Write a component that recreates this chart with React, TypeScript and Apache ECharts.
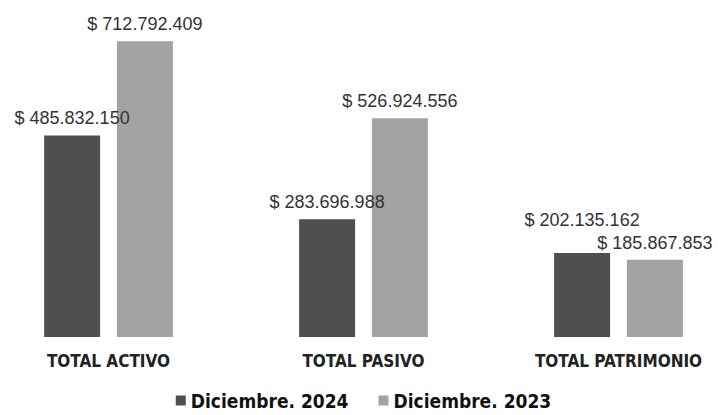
import React, { useEffect, useRef } from "react";
import * as echarts from "echarts";

const categories = ["TOTAL ACTIVO", "TOTAL PASIVO", "TOTAL PATRIMONIO"];
const seriesNames = ["Diciembre. 2024", "Diciembre. 2023"];
const values2024 = [485832150, 283696988, 202135162];
const values2023 = [712792409, 526924556, 185867853];
const colors = ["#4f4f4f", "#a3a3a3"];

function fmt(v: number): string {
  const s = Math.round(v).toString().replace(/\B(?=(\d{3})+(?!\d))/g, ".");
  return "$ " + s;
}

export default function App() {
  const ref = useRef<HTMLDivElement>(null);
  useEffect(() => {
    document.body.style.margin = "0";
    document.body.style.overflow = "hidden";
    const chart = echarts.init(ref.current!, null, { renderer: "svg" });
    const labelBase = {
      show: true,
      position: "top" as const,
      distance: 8,
      fontSize: 18,
      color: "#333",
      fontFamily: "Liberation Sans, Arial, sans-serif",
      formatter: (p: any) => fmt(p.value),
    };
    chart.setOption({
      animation: false,
      color: colors,
      grid: { left: 0, right: 0, top: 5, bottom: 78 },
      xAxis: {
        type: "category",
        data: categories,
        axisLine: { show: false },
        axisTick: { show: false },
        axisLabel: {
          margin: 15,
          fontSize: 17,
          fontWeight: "bold",
          color: "#222",
          fontFamily: "DejaVu Sans Condensed, DejaVu Sans, sans-serif",
        },
      },
      yAxis: {
        type: "value",
        min: 0,
        max: 800000000,
        show: false,
        splitLine: { show: false },
      },
      legend: {
        data: seriesNames,
        left: "center",
        top: 386,
        icon: "rect",
        itemWidth: 10,
        itemHeight: 10,
        itemGap: 30,
        textStyle: {
          fontSize: 19,
          fontWeight: "bold",
          color: "#111",
          fontFamily: "DejaVu Sans Condensed, DejaVu Sans, sans-serif",
        },
      },
      series: [
        {
          name: seriesNames[0],
          type: "bar",
          barWidth: 56,
          barGap: "30%",
          data: values2024.map((v, i) =>
            i === 2 ? { value: v, label: { offset: [0, -16] } } : v
          ),
          label: labelBase,
        },
        {
          name: seriesNames[1],
          type: "bar",
          barWidth: 56,
          data: values2023,
          label: labelBase,
        },
      ],
    });
    return () => chart.dispose();
  }, []);
  return (
    <div style={{ width: 718, height: 415, overflow: "hidden", position: "relative" }}>
      <div ref={ref} style={{ width: 765, height: 415, marginLeft: -19.5 }} />
    </div>
  );
}
